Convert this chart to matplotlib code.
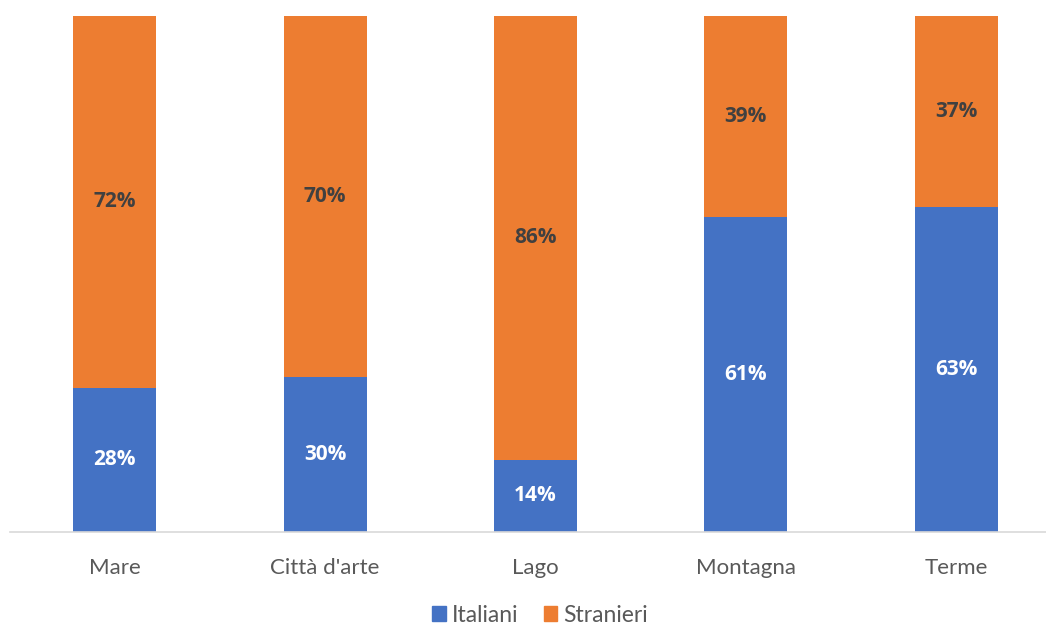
import numpy as np
import matplotlib

matplotlib.use("Agg")
import matplotlib.pyplot as plt
from matplotlib.patches import Patch

plt.rcParams["font.family"] = ["Lato", "DejaVu Sans"]

categories = ["Mare", "Città d'arte", "Lago", "Montagna", "Terme"]
italiani = [28, 30, 14, 61, 63]
stranieri = [72, 70, 86, 39, 37]

BLUE = "#4472C4"
ORANGE = "#ED7D31"

W, H = 1046, 626
fig = plt.figure(figsize=(W / 100, H / 100), dpi=100)
ax = fig.add_axes([9.5 / W, 94 / H, 1052 / W, 516 / H])

x = np.arange(len(categories))
bw = 0.395
ax.bar(x, italiani, bw, color=BLUE, label="Italiani")
ax.bar(x, stranieri, bw, bottom=italiani, color=ORANGE, label="Stranieri")

# percentage labels inside each segment
for xi, a, b in zip(x, italiani, stranieri):
    ax.text(xi, a / 2, f"{a}%", ha="center", va="center", color="white",
            fontsize=15, fontweight="bold", family=["Open Sans", "DejaVu Sans"])
    ax.text(xi, a + b / 2, f"{b}%", ha="center", va="center", color="#404040",
            fontsize=15, fontweight="bold", family=["Open Sans", "DejaVu Sans"])

ax.set_xlim(-0.5, len(categories) - 0.5)
ax.set_ylim(0, 100)
for s in ["top", "right", "left"]:
    ax.spines[s].set_visible(False)
ax.spines["bottom"].set_color("#D9D9D9")
ax.spines["bottom"].set_linewidth(1.2)
ax.set_yticks([])
ax.set_xticks(x)
ax.set_xticklabels(categories, fontsize=16, color="#595959")
ax.tick_params(axis="x", length=0, pad=19)

handles = [Patch(color=BLUE, label="Italiani"), Patch(color=ORANGE, label="Stranieri")]
fig.legend(handles=handles, loc="center", bbox_to_anchor=(540 / W, 1 - 615 / H),
           ncol=2, frameon=False, fontsize=16.5, handlelength=0.6, handleheight=0.6,
           handletextpad=0.25, columnspacing=1.1, labelcolor="#595959")

fig.savefig("out.png", dpi=100)
